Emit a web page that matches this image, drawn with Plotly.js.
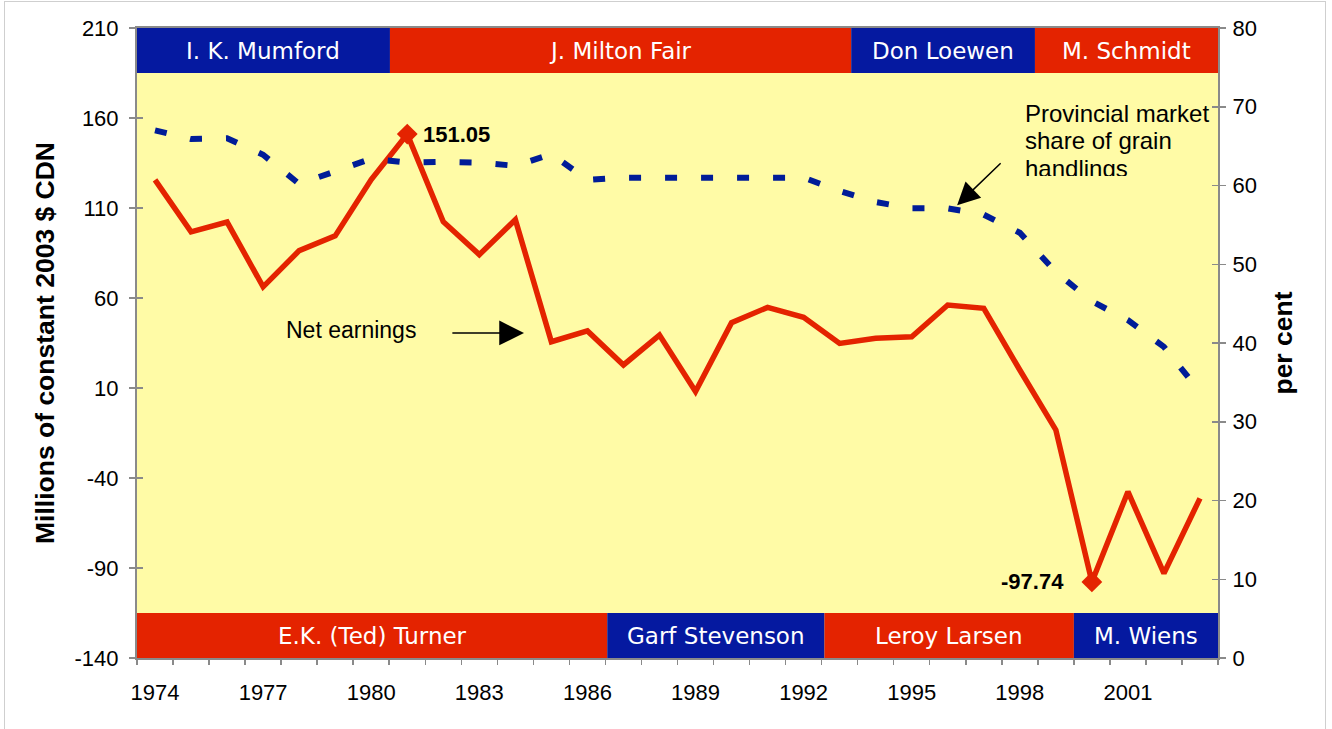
<!DOCTYPE html>
<html>
<head>
<meta charset="utf-8">
<script src="https://cdn.plot.ly/plotly-3.0.1.min.js"></script>
<style>
html,body{margin:0;padding:0;background:#fff;}
#wrap{position:relative;width:1332px;height:729px;}
#chart{width:1332px;height:729px;}
#frame{position:absolute;left:4px;top:1px;width:1322px;height:740px;border:1px solid #cfcfcf;pointer-events:none;box-sizing:border-box;}
</style>
</head>
<body>
<div id="wrap"><div id="chart"></div><div id="frame"></div></div>
<script>
// ---- data ----
const years = [1974,1975,1976,1977,1978,1979,1980,1981,1982,1983,1984,1985,1986,1987,1988,1989,1990,1991,1992,1993,1994,1995,1996,1997,1998,1999,2000,2001,2002,2003];
const netEarnings = [125.6,96.7,102.2,66.2,86.3,94.5,125.8,151.05,102.4,84.1,103.5,35.7,41.7,22.8,39.4,8.0,46.3,54.8,49.3,34.8,37.6,38.5,56.1,54.3,20.0,-13.3,-97.74,-47.6,-93.0,-51.3];
const marketShare = [67.0,65.9,66.0,63.9,60.2,61.8,63.4,62.9,63.0,62.9,62.5,64.0,60.7,61.0,61.0,61.0,61.0,61.0,61.0,59.3,57.9,57.1,57.1,56.3,54.0,49.0,45.3,42.9,39.5,33.8];
const tickYears = [1974,1977,1980,1983,1986,1989,1992,1995,1998,2001];
const leftTicks = [-140,-90,-40,10,60,110,160,210];
const rightTicks = [0,10,20,30,40,50,60,70,80];

// CEO / president tenure bands (year positions)
const topNames = ["I. K. Mumford","J. Milton Fair","Don Loewen","M. Schmidt"];
const topStart = [1973.5,1980.52,1993.32,1998.42];
const topEnd   = [1980.52,1993.32,1998.42,2003.5];
const topColors = ["blue","red","blue","red"];
const botNames = ["E.K. (Ted) Turner","Garf Stevenson","Leroy Larsen","M. Wiens"];
const botStart = [1973.5,1986.55,1992.58,1999.5];
const botEnd   = [1986.55,1992.58,1999.5,2003.5];
const botColors = ["red","blue","red","blue"];

// highlighted points (max and min of net earnings)
const hiIdx = netEarnings.indexOf(Math.max(...netEarnings));
const loIdx = netEarnings.indexOf(Math.min(...netEarnings));

// ---- styles ----
const RED = "#E42300", BLUE = "#0519A0", DASHBLUE = "#001C98", YELLOW = "#FFFBA6", GREY = "#8a8a8a";
const colorMap = {red: RED, blue: BLUE};
const X0 = years[0] - 0.5, X1 = years[years.length-1] + 0.5;
const boundaries = [];
for (let v = X0; v <= X1 + 1e-9; v += 1) boundaries.push(v);

const traces = [
  {x: years, y: marketShare, yaxis: 'y2', type: 'scatter', mode: 'lines',
   line: {color: DASHBLUE, width: 6, dash: '12px,24px'}, hoverinfo: 'skip', showlegend: false},
  {x: years, y: netEarnings, type: 'scatter', mode: 'lines',
   line: {color: RED, width: 5.5}, hoverinfo: 'skip', showlegend: false},
  {x: [years[hiIdx], years[loIdx]], y: [netEarnings[hiIdx], netEarnings[loIdx]], type: 'scatter', mode: 'markers',
   marker: {symbol: 'diamond', size: 16, color: RED}, hoverinfo: 'skip', showlegend: false},
  {x: [null], y: [null], xaxis: 'x2', yaxis: 'y', showlegend: false, hoverinfo: 'skip'},
  {x: [null], y: [null], xaxis: 'x', yaxis: 'y3', showlegend: false, hoverinfo: 'skip'},
  {x: [null], y: [null], xaxis: 'x', yaxis: 'y4', showlegend: false, hoverinfo: 'skip'}
];

const shapes = [];
const annotations = [];
const bandFont = {family: 'DejaVu Sans, sans-serif', size: 23, color: '#ffffff'};
topNames.forEach((n, i) => {
  shapes.push({type: 'rect', xref: 'x', yref: 'y', x0: topStart[i], x1: topEnd[i], y0: 185, y1: 210,
    fillcolor: colorMap[topColors[i]], line: {width: 0}, layer: 'below'});
  annotations.push({xref: 'x', yref: 'y', x: (topStart[i] + topEnd[i]) / 2, y: 197.5, text: n,
    showarrow: false, font: bandFont, xanchor: 'center', yanchor: 'middle'});
});
botNames.forEach((n, i) => {
  shapes.push({type: 'rect', xref: 'x', yref: 'y', x0: botStart[i], x1: botEnd[i], y0: -140, y1: -115,
    fillcolor: colorMap[botColors[i]], line: {width: 0}, layer: 'below'});
  annotations.push({xref: 'x', yref: 'y', x: (botStart[i] + botEnd[i]) / 2, y: -127.5, text: n,
    showarrow: false, font: bandFont, xanchor: 'center', yanchor: 'middle'});
});

const lblFont = {family: 'Liberation Sans, Arial, sans-serif', size: 22, color: '#000'};
annotations.push(
  {xref: 'x', yref: 'y', x: years[hiIdx], y: netEarnings[hiIdx], text: '<b>' + netEarnings[hiIdx].toFixed(2) + '</b>',
   showarrow: false, xanchor: 'left', yanchor: 'middle', xshift: 14, font: lblFont},
  {xref: 'x', yref: 'y', x: years[loIdx], y: netEarnings[loIdx], text: '<b>' + netEarnings[loIdx].toFixed(2) + '</b>',
   showarrow: false, xanchor: 'right', yanchor: 'middle', xshift: -26, font: lblFont},
  {xref: 'x', yref: 'y', x: 1979.44, y: 42.4, text: 'Net earnings', showarrow: false,
   xanchor: 'center', yanchor: 'middle', font: {family: 'Liberation Sans, Arial, sans-serif', size: 23, color: '#000'}},
  {xref: 'x', yref: 'y', x: 1984.24, y: 40.6, axref: 'x', ayref: 'y', ax: 1982.21, ay: 40.6, text: '',
   showarrow: true, arrowhead: 2, arrowsize: 3.3, arrowwidth: 1.5, arrowcolor: '#000', standoff: 0, startstandoff: 0},
  {xref: 'x', yref: 'paper', x: 1998.1, y: 0.8643, text: 'Provincial market', showarrow: false,
   xanchor: 'left', yanchor: 'middle', font: {family: 'Liberation Sans, Arial, sans-serif', size: 24, color: '#000'}},
  {xref: 'x', yref: 'paper', x: 1998.1, y: 0.8214, text: 'share of grain', showarrow: false,
   xanchor: 'left', yanchor: 'middle', font: {family: 'Liberation Sans, Arial, sans-serif', size: 24, color: '#000'}},
  {xref: 'x', yref: 'paper', x: 1998.1, y: 0.8016, text: 'handlings', showarrow: false, height: 21, valign: 'top',
   xanchor: 'left', yanchor: 'top', font: {family: 'Liberation Sans, Arial, sans-serif', size: 24, color: '#000'}},
  {xref: 'x', yref: 'y2', x: 1996.26, y: 57.5, axref: 'x', ayref: 'y2', ax: 1997.51, ay: 63.0, text: '',
   showarrow: true, arrowhead: 2, arrowsize: 3, arrowwidth: 1.5, arrowcolor: '#000', standoff: 0, startstandoff: 0}
);

const tickFont = {family: 'Liberation Sans, Arial, sans-serif', size: 22, color: '#000'};
const layout = {
  width: 1332, height: 729,
  margin: {l: 137, r: 114, t: 28, b: 71, pad: 0},
  paper_bgcolor: '#ffffff', plot_bgcolor: YELLOW,
  showlegend: false,
  font: {family: 'Liberation Sans, Arial, sans-serif', color: '#000'},
  xaxis: {range: [X0, X1], tickvals: tickYears, ticktext: tickYears.map(String), ticks: '',
    showline: true, linecolor: GREY, linewidth: 2, mirror: true, showgrid: false, zeroline: false,
    tickfont: tickFont, ticklabelstandoff: 14, fixedrange: true},
  xaxis2: {overlaying: 'x', anchor: 'y', side: 'bottom', range: [X0, X1], tickvals: boundaries,
    ticks: 'outside', ticklen: 6, tickwidth: 1.5, tickcolor: GREY, showticklabels: false,
    showline: false, showgrid: false, zeroline: false, fixedrange: true},
  yaxis: {range: [-140, 210], tickvals: leftTicks, ticktext: leftTicks.map(String), ticks: 'outside', ticklen: 6, tickwidth: 1.5, tickcolor: GREY,
    showline: true, linecolor: GREY, linewidth: 2, showgrid: false, zeroline: false, tickfont: tickFont,
    ticklabelstandoff: 6,
    title: {text: '<b>Millions of constant 2003 $ CDN</b>', font: {family: 'Liberation Sans, Arial, sans-serif', size: 26.5, color: '#000'}, standoff: 12},
    fixedrange: true},
  yaxis3: {overlaying: 'y', anchor: 'x', side: 'left', range: [-140, 210], tickvals: leftTicks, ticks: 'inside', ticklen: 6,
    tickwidth: 1.5, tickcolor: GREY, showticklabels: false, showline: false, showgrid: false, zeroline: false, fixedrange: true},
  yaxis2: {overlaying: 'y', anchor: 'x', side: 'right', range: [0, 80], tickvals: rightTicks, ticktext: rightTicks.map(String), ticks: 'outside', ticklen: 6,
    tickwidth: 1.5, tickcolor: GREY, showline: true, linecolor: GREY, linewidth: 2, showgrid: false, zeroline: false,
    tickfont: tickFont, ticklabelstandoff: 2,
    title: {text: '<b>per cent</b>', font: {family: 'Liberation Sans, Arial, sans-serif', size: 26.5, color: '#000'}, standoff: 18},
    fixedrange: true},
  yaxis4: {overlaying: 'y', anchor: 'x', side: 'right', range: [0, 80], tickvals: rightTicks, ticks: 'inside', ticklen: 6,
    tickwidth: 1.5, tickcolor: GREY, showticklabels: false, showline: false, showgrid: false, zeroline: false, fixedrange: true},
  shapes: shapes,
  annotations: annotations
};

Plotly.newPlot('chart', traces, layout, {displayModeBar: false, staticPlot: true});
</script>
</body>
</html>
